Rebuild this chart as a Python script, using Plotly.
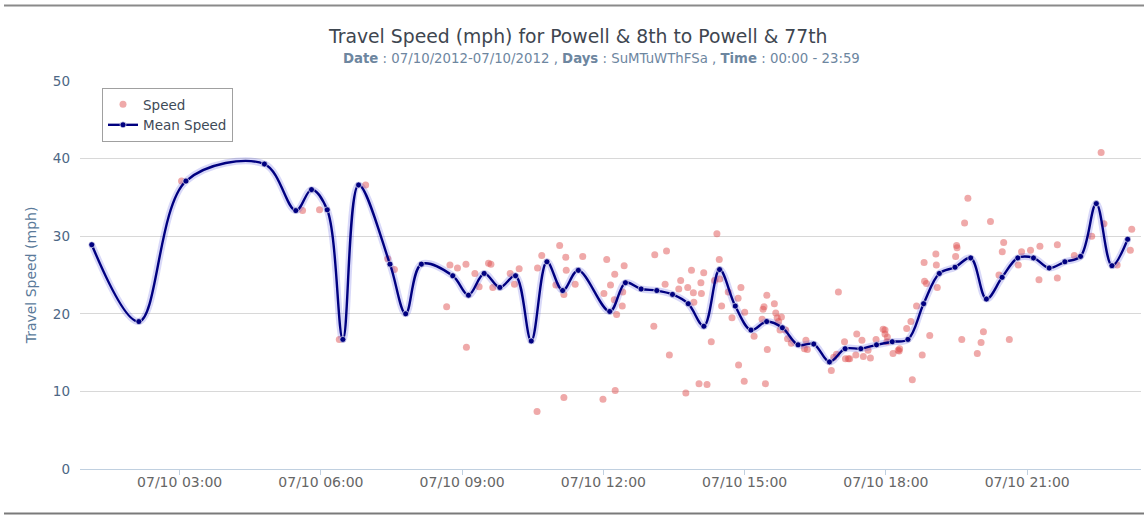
import pandas as pd
import plotly.graph_objects as go

DAY = "2012-07-10"

# Mean speed series (time of day, mph)
mean_times = ["01:08", "02:08", "03:08", "04:48", "05:28", "05:48", "06:08", "06:28", "06:48",
              "07:28", "07:48", "08:08", "08:48", "09:08", "09:28", "09:48", "10:08", "10:28",
              "10:48", "11:08", "11:28", "12:08", "12:28", "12:48", "13:08", "13:28", "13:48",
              "14:08", "14:28", "14:48", "15:08", "15:28", "15:48", "16:08", "16:28", "16:48",
              "17:08", "17:28", "17:48", "18:08", "18:28", "18:48", "19:08", "19:28", "19:48",
              "20:08", "20:28", "20:48", "21:08", "21:28", "21:48", "22:08", "22:28", "22:48",
              "23:08"]
mean_speed = [28.9, 19.0, 37.1, 39.3, 33.3, 36.0, 33.4, 16.7, 36.6,
              26.4, 20.0, 26.4, 24.9, 22.4, 25.2, 23.4, 24.9, 16.5,
              26.7, 23.0, 25.6, 20.3, 24.0, 23.2, 23.0, 22.5, 21.3,
              18.4, 25.7, 21.0, 17.9, 19.0, 18.2, 16.0, 16.1, 13.8,
              15.5, 15.5, 16.0, 16.4, 16.7, 21.3, 25.2, 26.0, 27.2,
              21.9, 24.7, 27.2, 27.2, 25.9, 26.7, 27.4, 34.2, 26.2,
              29.6]

# Individual speed observations (hour of day as decimal, mph)
speed_hours = [3.04, 5.61, 5.97, 6.39, 6.95, 7.42, 7.56,
               8.67, 8.74, 8.90, 9.08, 9.09, 9.27, 9.36, 9.56, 9.61, 9.65, 10.02, 10.11, 10.21,
               10.59, 10.60, 10.69, 10.99, 11.07, 11.16, 11.16, 11.20, 11.21, 11.40, 11.56,
               11.99, 12.01, 12.07, 12.15, 12.24, 12.25, 12.23, 12.28, 12.40, 12.41, 12.44,
               13.07, 13.09, 13.31, 13.34, 13.40, 13.60, 13.64, 13.75, 13.79, 13.87, 13.91, 13.92,
               14.03, 14.07, 14.08, 14.13, 14.20, 14.29, 14.36, 14.41, 14.46, 14.47, 14.51, 14.65,
               14.73, 14.86, 14.92, 14.87, 14.99, 15.00, 15.20, 15.37, 15.39, 15.41, 15.47, 15.48,
               15.44, 15.63, 15.66, 15.69, 15.72, 15.78, 15.75, 15.87, 15.91, 15.99, 16.27, 16.30,
               16.33, 16.84, 16.99, 16.89, 16.95, 17.12, 17.14, 17.20, 17.23, 17.36, 17.38, 17.49,
               17.52, 17.62, 17.67, 17.79, 17.94, 17.98, 18.03, 18.15, 18.26, 18.29, 18.44, 18.53,
               18.56, 18.65, 17.98, 18.02, 18.28, 18.77, 18.81, 18.82, 18.86, 18.93, 19.06, 19.07,
               19.09, 19.50, 19.51, 19.48, 19.61, 19.67, 19.74, 19.94, 20.02, 20.07, 20.22, 20.40,
               20.47, 20.50, 20.62, 20.81, 20.88, 21.07, 21.25, 21.27, 21.64, 21.64, 22.00, 22.37,
               22.57, 22.63, 22.91, 23.19, 23.22]
speed_values = [37.1, 33.3, 33.4, 16.7, 36.6, 27.1, 25.7,
                20.9, 26.3, 25.9, 26.4, 15.7, 25.2, 23.5, 26.5, 26.4, 23.4, 25.2, 23.8, 25.8,
                7.4, 25.9, 27.5, 23.7, 28.8, 9.2, 22.5, 27.3, 25.6, 23.8, 27.4,
                9.0, 22.6, 27.0, 23.7, 25.1, 10.1, 21.8, 19.9, 21.0, 22.8, 26.2,
                18.4, 27.6, 23.8, 28.1, 14.7, 23.2, 24.3, 9.8, 23.4, 25.6, 22.7, 21.5,
                11.0, 24.0, 22.6, 25.3, 10.9, 16.4, 24.3, 30.3, 27.0, 24.5, 21.0, 22.8,
                19.5, 22.0, 23.4, 13.4, 11.3, 20.2, 17.1, 19.3, 20.6, 20.9, 22.4, 15.4,
                11.0, 21.3, 20.1, 19.5, 19.0, 19.6, 17.9, 17.9, 16.8, 16.2, 15.5, 16.6,
                15.4, 12.7, 22.8, 14.4, 14.8, 16.4, 14.2, 14.2, 14.2, 14.7, 17.4, 16.6,
                14.5, 15.3, 14.3, 16.7, 18.0, 17.4, 17.0, 14.9, 15.3, 15.5, 18.1, 19.0,
                11.5, 21.0, 17.9, 16.4, 15.2, 14.7, 26.6, 24.2, 23.9, 17.2, 27.7, 26.3,
                23.4, 28.8, 28.5, 27.4, 16.7, 31.7, 34.9, 14.9, 16.3, 17.7, 31.9, 25.0,
                28.0, 29.2, 16.7, 26.3, 28.0, 28.2, 24.4, 28.7, 28.9, 24.6, 27.5, 30.0,
                40.8, 31.6, 26.3, 28.2, 30.9]

x_tick_step_hours = 3
y_ticks = [0, 10, 20, 30, 40, 50]

base = pd.Timestamp(DAY)
mean_x = pd.to_datetime([f"{DAY} {t}" for t in mean_times])
speed_x = [base + pd.to_timedelta(h, unit="h") for h in speed_hours]

FONT = "DejaVu Sans, Verdana, sans-serif"

fig = go.Figure()

fig.add_trace(go.Scatter(
    x=speed_x, y=speed_values, mode="markers", name="Speed",
    marker=dict(size=7, color="rgba(223,83,83,0.5)", line=dict(width=0)),
))

# soft glow under the mean line
fig.add_trace(go.Scatter(
    x=mean_x, y=mean_speed, mode="lines", showlegend=False, hoverinfo="skip",
    line=dict(color="rgba(60,60,220,0.2)", width=7, shape="spline", smoothing=1.0),
))

fig.add_trace(go.Scatter(
    x=mean_x, y=mean_speed, mode="lines+markers", name="Mean Speed",
    line=dict(color="#000080", width=2.4, shape="spline", smoothing=1.0),
    marker=dict(size=6, color="#000080", line=dict(width=0.6, color="white")),
))

x_start = base + pd.Timedelta(minutes=53)
x_end = base + pd.Timedelta(hours=23, minutes=25)

PL, PT, PW, PH = 80, 81, 1061, 388  # plot area in pixels


def px(x):
    return (x - PL) / PW


def py(y):
    return (PT + PH - y) / PH


fig.update_layout(
    width=1144, height=516,
    margin=dict(l=PL, r=1144 - PL - PW, t=PT, b=516 - PT - PH),
    paper_bgcolor="white", plot_bgcolor="white",
    font=dict(family=FONT, color="#666666"),
    showlegend=True,
    legend=dict(
        x=px(102), y=py(88), xanchor="left", yanchor="top",
        bgcolor="white", bordercolor="#a0a0a0", borderwidth=1,
        font=dict(family=FONT, size=13.5, color="#3E4A57"),
        itemsizing="trace",
    ),
    xaxis=dict(
        type="date", range=[x_start, x_end],
        tick0=base, dtick=x_tick_step_hours * 3600 * 1000,
        tickformat="%m/%d %H:%M",
        showgrid=False, zeroline=False,
        showline=True, linecolor="#C0D0E0", linewidth=1,
        ticks="outside", ticklen=5, tickcolor="#C0D0E0",
        ticklabelstandoff=-5,
        tickfont=dict(family=FONT, size=14, color="#666666"),
    ),
    yaxis=dict(
        range=[0, 50], tickvals=y_ticks,
        showgrid=True, gridcolor="#D8D8D8", gridwidth=1,
        zeroline=False, showline=False,
        tickfont=dict(family=FONT, size=13.5, color="#4D6785"),
        ticklabelstandoff=9,
        title=dict(text="Travel Speed (mph)", font=dict(family=FONT, size=14, color="#5A7A9A"),
                   standoff=12),
    ),
    annotations=[
        dict(text="Travel Speed (mph) for Powell & 8th to Powell & 77th",
             xref="paper", yref="paper", x=px(578), y=py(37),
             xanchor="center", yanchor="middle", showarrow=False,
             font=dict(family=FONT, size=18.8, color="#3E4650")),
        dict(text="<b>Date</b> : 07/10/2012-07/10/2012 , <b>Days</b> : SuMTuWThFSa , <b>Time</b> : 00:00 - 23:59",
             xref="paper", yref="paper", x=px(601), y=py(58),
             xanchor="center", yanchor="middle", showarrow=False,
             font=dict(family=FONT, size=13.3, color="#6D869F")),
    ],
    shapes=[
        dict(type="line", xref="paper", yref="paper",
             x0=px(4), x1=px(1144), y0=py(5.5), y1=py(5.5),
             line=dict(color="#8a8a8a", width=2)),
        dict(type="line", xref="paper", yref="paper",
             x0=px(4), x1=px(1144), y0=py(513.5), y1=py(513.5),
             line=dict(color="#7a7a7a", width=2)),
    ],
)

fig.write_html("out.html", post_script="document.body.style.margin='0';",
               config={"displayModeBar": False})
